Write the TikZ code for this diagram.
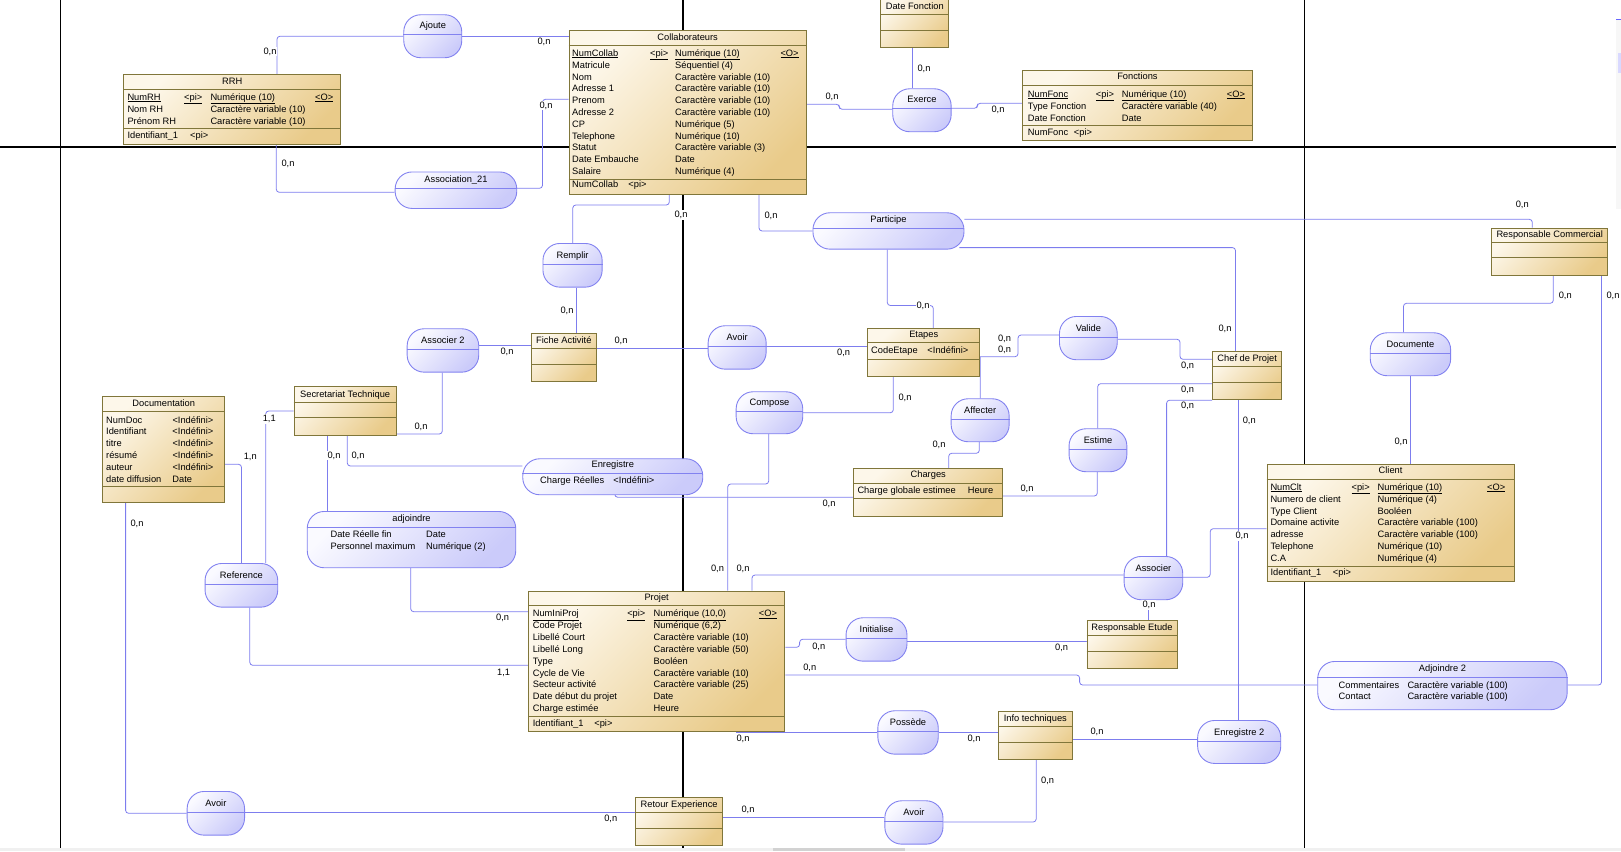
\documentclass[tikz,border=0pt]{standalone}
\usepackage{fontspec}
\setmainfont{Liberation Sans}
\usetikzlibrary{backgrounds}
\definecolor{entLight}{RGB}{253,247,234}
\definecolor{entDark}{RGB}{233,203,138}
\definecolor{entLine}{RGB}{128,118,58}
\definecolor{ascLight}{RGB}{250,250,255}
\definecolor{ascDark}{RGB}{203,203,250}
\definecolor{ascLine}{RGB}{130,130,240}
\definecolor{linkBlue}{RGB}{125,125,238}
\tikzset{
    entity/.style={draw=entLine, line width=0.9pt, rectangle, inner sep=0pt, anchor=north west, top color=entLight, bottom color=entDark, shading angle=45},
    assoc/.style={draw=ascLine, line width=0.9pt, rectangle, rounded corners=17pt, inner sep=0pt, anchor=north west, top color=ascLight, bottom color=ascDark, shading angle=45},
    esep/.style={draw=entLine, line width=0.9pt},
    asep/.style={draw=ascLine, line width=0.9pt},
    link/.style={draw=linkBlue, line width=0.8pt, rounded corners=3pt},
    pageline/.style={draw=black, line width=1.1pt},
    lbl/.style={font=\fontsize{9.3}{11.8}\selectfont, inner sep=0pt, text height=6.8pt, text depth=1.8pt},
    foot/.style={lbl, anchor=west},
    card/.style={lbl, anchor=west, fill=white, inner sep=0.3pt},
    attr/.style={font=\fontsize{9.3}{11.8}\selectfont, inner sep=0pt, anchor=north west}
}
\begin{document}
\begin{tikzpicture}[x=1pt, y=-1pt]
    \useasboundingbox (0,0) rectangle (1621,851);

    % entities
    \node[entity, minimum width=217pt, minimum height=70pt] (rrh) at (123.3,74.3) {};
    \node[entity, minimum width=237pt, minimum height=163.7pt] (collab) at (568.7,30.3) {};
    \node[entity, minimum width=68pt, minimum height=48.1pt] (datefct) at (880.3,-0.8) {};
    \node[entity, minimum width=229.4pt, minimum height=70.3pt] (fonctions) at (1022.3,70) {};
    \node[entity, minimum width=122pt, minimum height=106pt] (doc) at (102.3,396.3) {};
    \node[entity, minimum width=102pt, minimum height=49pt] (secr) at (293.7,386.3) {};
    \node[entity, minimum width=64.7pt, minimum height=47.7pt] (fiche) at (531,333.3) {};
    \node[entity, minimum width=112pt, minimum height=48pt] (etapes) at (867.3,328.3) {};
    \node[entity, minimum width=149pt, minimum height=47.7pt] (charges) at (853.3,468.3) {};
    \node[entity, minimum width=69.3pt, minimum height=48pt] (chef) at (1212.1,351.3) {};
    \node[entity, minimum width=247.2pt, minimum height=117pt] (client) at (1266.5,464) {};
    \node[entity, minimum width=116pt, minimum height=47.6pt] (respcom) at (1491.3,227.7) {};
    \node[entity, minimum width=256.4pt, minimum height=140.6pt] (projet) at (528,590.7) {};
    \node[entity, minimum width=90pt, minimum height=48pt] (respetude) at (1086.5,620.3) {};
    \node[entity, minimum width=73.6pt, minimum height=47.7pt] (infotech) at (998.1,711.3) {};
    \node[entity, minimum width=87.4pt, minimum height=48.3pt] (retour) at (635,797) {};

    % associations
    \node[assoc, minimum width=58pt, minimum height=43pt] (ajoute) at (403.3,14.3) {};
    \node[assoc, minimum width=121.6pt, minimum height=36.5pt] (assoc21) at (394.7,171.5) {};
    \node[assoc, minimum width=58.4pt, minimum height=43pt] (exerce) at (892.3,88.3) {};
    \node[assoc, minimum width=59.2pt, minimum height=43.7pt] (remplir) at (542.5,243) {};
    \node[assoc, minimum width=151pt, minimum height=36.4pt] (participe) at (812.5,212.3) {};
    \node[assoc, minimum width=71.6pt, minimum height=43.4pt] (associer2) at (406.7,328.3) {};
    \node[assoc, minimum width=58pt, minimum height=43.4pt] (avoirM) at (707.7,325.3) {};
    \node[assoc, minimum width=66.6pt, minimum height=42pt] (compose) at (735.7,391.3) {};
    \node[assoc, minimum width=58pt, minimum height=43pt] (affecter) at (950.7,398.3) {};
    \node[assoc, minimum width=180pt, minimum height=36pt] (enregistre) at (522.3,458.3) {};
    \node[assoc, minimum width=57.8pt, minimum height=43.3pt] (valide) at (1059,316) {};
    \node[assoc, minimum width=57.8pt, minimum height=43pt] (estime) at (1068.6,428.3) {};
    \node[assoc, minimum width=80.4pt, minimum height=43pt] (documente) at (1369.8,332.3) {};
    \node[assoc, minimum width=58.6pt, minimum height=43.3pt] (associer) at (1123.7,556) {};
    \node[assoc, minimum width=208.5pt, minimum height=56.3pt] (adjoindre) at (306.8,511) {};
    \node[assoc, minimum width=72.7pt, minimum height=43.7pt] (reference) at (204.6,563) {};
    \node[assoc, minimum width=60.9pt, minimum height=43.4pt] (initialise) at (845.6,617.3) {};
    \node[assoc, minimum width=249.4pt, minimum height=48.3pt] (adjoindre2) at (1317.3,661) {};
    \node[assoc, minimum width=60.4pt, minimum height=43.4pt] (possede) at (877.4,710.3) {};
    \node[assoc, minimum width=83.1pt, minimum height=43pt] (enregistre2) at (1197.2,720) {};
    \node[assoc, minimum width=57.4pt, minimum height=43.7pt] (avoirL) at (186.7,791) {};
    \node[assoc, minimum width=58.1pt, minimum height=43.4pt] (avoirR) at (884.4,800.3) {};

    \begin{scope}[on background layer]
    % page borders of the model
    \draw[pageline] (60.7,0) -- (60.7,848);
    \draw[pageline] (683,0) -- (683,848);
    \draw[pageline] (1304.5,0) -- (1304.5,848);
    \draw[pageline] (0,147) -- (1616,147);
    \fill[gray!12] (0,848) rectangle (1621,851);
    \fill[gray!35] (773,848) rectangle (905,851);
    \fill[gray!6] (1616,19) rectangle (1621,209);
    \fill[blue!15] (1617.5,53) rectangle (1621,73);
    \draw[blue!60] (1616,19) -- (1621,19);

    % connectors
    \draw[link] (rrh.north -| 277,0) |- (ajoute.west);
    \draw[link] (ajoute.east) -- (ajoute.east -| collab.west);
    \draw[link] (rrh.south -| 276.3,0) |- (assoc21.west |- 0,192.3);
    \draw[link] (assoc21.east |- 0,188.3) -| (542.5,99.3) -- (collab.west |- 0,99.3);
    \draw[link] (collab.east |- 0,104.3) -| (839.3,109.3) -- (exerce.west |- 0,109.3);
    \draw[link] (exerce.north -| 912.3,0) -- (datefct.south -| 912.3,0);
    \draw[link] (exerce.east |- 0,108.3) -| (977.3,103.3) -- (fonctions.west |- 0,103.3);
    \draw[link] (collab.south -| 669.3,0) |- (572.8,205) -- (remplir.north -| 572.8,0);
    \draw[link] (remplir.south -| 576.5,0) -- (fiche.north -| 576.5,0);
    \draw[link] (collab.south -| 759,0) |- (participe.west);
    \draw[link] (participe.east |- 0,219.3) -| (respcom.north -| 1532.3,0);
    \draw[link] ([xshift=-5pt,yshift=2pt]participe.south east) -| (chef.north -| 1235.5,0);
    \draw[link] (participe.south -| 887.3,0) |- (933.3,305.5) -- (etapes.north -| 933.3,0);
    \draw[link] (associer2.east |- 0,345) -- (fiche.west |- 0,345);
    \draw[link] (associer2.south -| 442.3,0) |- (secr.east |- 0,434);
    \draw[link] (fiche.east |- 0,348.3) -- (avoirM.west |- 0,348.3);
    \draw[link] (avoirM.east |- 0,346) -- (etapes.west |- 0,346);
    \draw[link] (etapes.east |- 0,356.7) -| (1018,335) -- (valide.west |- 0,335);
    \draw[link] (etapes.east |- 0,357) -- (affecter.north -| 980.3,0);
    \draw[link] (affecter.south -| 979.3,0) |- (948.7,453.3) -- (charges.north -| 948.7,0);
    \draw[link] (etapes.south -| 893.3,0) |- (compose.east);
    \draw[link] (compose.south -| 768.7,0) |- (727.7,484) -- (projet.north -| 727.7,0);
    \draw[link] (projet.north -| 752,0) |- (associer.west |- 0,575);
    \draw[link] (associer.north -| 1166.6,0) |- (chef.south west);
    \draw[link] (estime.north -| 1097.7,0) |- (chef.west |- 0,383.7);
    \draw[link] (valide.east |- 0,339.3) -| (1180,359.3) -- (chef.west |- 0,359.3);
    \draw[link] (estime.south -| 1097.3,0) |- (charges.east |- 0,496);
    \draw[link] (secr.south -| 347.3,0) |- (enregistre.west |- 0,466);
    \draw[link] (secr.south -| 327.7,0) -- (adjoindre.north -| 327.7,0);
    \draw[link] (enregistre.south -| 614.8,0) |- (charges.west |- 0,497.3);
    \draw[link] (adjoindre.south -| 410.7,0) |- (projet.west |- 0,611.7);
    \draw[link] (reference.south -| 249.8,0) |- (projet.west |- 0,665.3);
    \draw[link] (doc.east |- 0,464.3) -| (reference.north -| 241.5,0);
    \draw[link] (secr.west |- 0,411) -| (reference.north -| 265.7,0);
    \draw[link] (doc.south -| 125.6,0) |- (avoirL.west);
    \draw[link] (avoirL.east |- 0,812) -- (retour.west |- 0,812);
    \draw[link] (retour.east |- 0,817.3) -- (avoirR.west |- 0,817.3);
    \draw[link] (avoirR.east |- 0,822) -| (infotech.south -| 1036.2,0);
    \draw[link] (projet.south -| 736,0) -- (possede.west |- projet.south);
    \draw[link] (possede.east |- 0,732) -- (infotech.west |- 0,732);
    \draw[link] (infotech.east |- 0,739.3) -- (enregistre2.west |- 0,739.3);
    \draw[link] (enregistre2.north -| 1238.4,0) -- (chef.south -| 1238.4,0);
    \draw[link] (projet.east |- 0,647.3) -| (799.6,639.3) -- (initialise.west |- 0,639.3);
    \draw[link] (initialise.east |- 0,641.3) -- (respetude.west |- 0,641.3);
    \draw[link] (respetude.north -| 1148.4,0) -- (associer.south -| 1148.4,0);
    \draw[link] (projet.east |- 0,675) -| (1079.6,685) -- (adjoindre2.west |- 0,685);
    \draw[link] (adjoindre2.east |- 0,685) -| (respcom.south -| 1601.5,0);
    \draw[link] (associer.east |- 0,577.3) -| (1210.2,528.7) -- (client.west |- 0,528.7);
    \draw[link] (documente.south -| 1410,0) -- (client.north -| 1410,0);
    \draw[link] (documente.north -| 1403.5,0) |- (1553.3,303.3) -- (respcom.south -| 1553.3,0);
    \end{scope}

    % compartments and titles
    \foreach \n/\a/\b/\t in {rrh/89.3/128/RRH, collab/45.3/179.3/Collaborateurs,
        datefct/14.3/30.3/Date Fonction, fonctions/85/125.3/Fonctions,
        doc/411.7/486.7/Documentation, secr/402.3/417.7/Secretariat Technique,
        fiche/348.3/364.3/Fiche Activité, etapes/342.7/359.3/Etapes,
        charges/483/498.3/Charges, chef/366.7/382.3/Chef de Projet,
        client/479/566.3/Client, respcom/242.3/257.3/Responsable Commercial,
        projet/605.7/716/Projet, respetude/635.3/651.3/Responsable Etude,
        infotech/726.3/742.3/Info techniques, retour/812.3/828.3/Retour Experience}{
        \draw[esep] (\n.west |- 0,\a) -- (\n.east |- 0,\a);
        \draw[esep] (\n.west |- 0,\b) -- (\n.east |- 0,\b);
        \node[lbl] (\n-t) at (\n.center |- 0,\a-7.6) {\t};
    }
    \foreach \n/\s/\t in {ajoute/34.7/Ajoute, assoc21/188.3/Association\_21,
        exerce/108.3/Exerce, remplir/264.3/Remplir, participe/228.7/Participe,
        associer2/349.3/Associer 2, avoirM/346/Avoir, compose/411.3/Compose,
        affecter/419.3/Affecter, enregistre/473.3/Enregistre, valide/337.3/Valide,
        estime/449.3/Estime, documente/353/Documente, associer/577/Associer,
        adjoindre/527.7/adjoindre, reference/584.3/Reference,
        initialise/638.3/Initialise, adjoindre2/677.3/Adjoindre 2,
        possede/731/Possède, enregistre2/741.3/Enregistre 2,
        avoirL/812/Avoir, avoirR/821/Avoir}{
        \draw[asep] (\n.west |- 0,\s) -- (\n.east |- 0,\s);
        \node[lbl] (\n-t) at (\n.center |- 0,\s-8.3) {\t};
    }

    % attributes
    \node[attr] (rrh-a) at (127.3,91.7) {\begin{tabular}{@{}p{56.7pt}@{}p{26.3pt}@{}p{104.7pt}@{}l@{}}
        \underline{NumRH} & \underline{<pi>} & \underline{Numérique (10)} & \underline{<O>}\\
        Nom RH & & Caractère variable (10)\\
        Prénom RH & & Caractère variable (10)
    \end{tabular}};
    \node[foot] (rrh-f) at (127.3,136) {\makebox[62.7pt][l]{Identifiant\_1}<pi>};

    \node[attr] (collab-a) at (572,47.7) {\begin{tabular}{@{}p{78pt}@{}p{25pt}@{}p{105.3pt}@{}l@{}}
        \underline{NumCollab} & \underline{<pi>} & \underline{Numérique (10)} & \underline{<O>}\\
        Matricule & & Séquentiel (4)\\
        Nom & & Caractère variable (10)\\
        Adresse 1 & & Caractère variable (10)\\
        Prenom & & Caractère variable (10)\\
        Adresse 2 & & Caractère variable (10)\\
        CP & & Numérique (5)\\
        Telephone & & Numérique (10)\\
        Statut & & Caractère variable (3)\\
        Date Embauche & & Date\\
        Salaire & & Numérique (4)
    \end{tabular}};
    \node[foot] (collab-f) at (572,185.3) {\makebox[56.3pt][l]{NumCollab}<pi>};

    \node[attr] (fonctions-a) at (1027.7,88.7) {\begin{tabular}{@{}p{68pt}@{}p{26pt}@{}p{105pt}@{}l@{}}
        \underline{NumFonc} & \underline{<pi>} & \underline{Numérique (10)} & \underline{<O>}\\
        Type Fonction & & Caractère variable (40)\\
        Date Fonction & & Date
    \end{tabular}};
    \node[foot] (fonctions-f) at (1027.7,132.7) {\makebox[46pt][l]{NumFonc}<pi>};

    \node[attr] (doc-a) at (106,414.7) {\begin{tabular}{@{}p{66.3pt}@{}l@{}}
        NumDoc & <Indéfini>\\
        Identifiant & <Indéfini>\\
        titre & <Indéfini>\\
        résumé & <Indéfini>\\
        auteur & <Indéfini>\\
        date diffusion & Date
    \end{tabular}};

    \node[foot] (etapes-a) at (871,350.7) {\makebox[56.3pt][l]{CodeEtape}<Indéfini>};
    \node[foot] (charges-a) at (857.3,490.7) {\makebox[110.4pt][l]{Charge globale estimee}Heure};

    \node[attr] (client-a) at (1270.3,481.7) {\begin{tabular}{@{}p{81.1pt}@{}p{26pt}@{}p{109.5pt}@{}l@{}}
        \underline{NumClt} & \underline{<pi>} & \underline{Numérique (10)} & \underline{<O>}\\
        Numero de client & & Numérique (4)\\
        Type Client & & Booléen\\
        Domaine activite & & Caractère variable (100)\\
        adresse & & Caractère variable (100)\\
        Telephone & & Numérique (10)\\
        C.A & & Numérique (4)
    \end{tabular}};
    \node[foot] (client-f) at (1270.3,572.7) {\makebox[62.4pt][l]{Identifiant\_1}<pi>};

    \node[attr] (projet-a) at (532.6,608.3) {\begin{tabular}{@{}p{94.5pt}@{}p{26.4pt}@{}p{105.2pt}@{}l@{}}
        \underline{NumIniProj} & \underline{<pi>} & \underline{Numérique (10,0)} & \underline{<O>}\\
        Code Projet & & Numérique (6,2)\\
        Libellé Court & & Caractère variable (10)\\
        Libellé Long & & Caractère variable (50)\\
        Type & & Booléen\\
        Cycle de Vie & & Caractère variable (10)\\
        Secteur activité & & Caractère variable (25)\\
        Date début du projet & & Date\\
        Charge estimée & & Heure
    \end{tabular}};
    \node[foot] (projet-f) at (532.6,723.7) {\makebox[61.6pt][l]{Identifiant\_1}<pi>};

    \node[foot] (enregistre-a) at (540,480.7) {\makebox[73.3pt][l]{Charge Réelles}<Indéfini>};
    \node[attr] (adjoindre-a) at (330.4,529) {\begin{tabular}{@{}p{95.6pt}@{}l@{}}
        Date Réelle fin & Date\\
        Personnel maximum & Numérique (2)
    \end{tabular}};
    \node[attr] (adjoindre2-a) at (1338.5,680) {\begin{tabular}{@{}p{68.8pt}@{}l@{}}
        Commentaires & Caractère variable (100)\\[-0.8pt]
        Contact & Caractère variable (100)
    \end{tabular}};

    % cardinalities
    \foreach \x/\y [count=\i] in {263/51.7, 537/41.7, 281/164.3, 539/105.7, 825/97,
        917/69, 991/109.7, 674/215, 764/215.7, 560/310.7, 1515.3/204.7, 1218/328.7,
        916/305.7, 500/352.3, 414/427, 614/340.7, 836.7/352.7, 997.5/338.7, 997.5/350,
        932/445.3, 898/397.7, 710.5/568.7, 736/568.7, 1180.7/405.7, 1180.7/389.7,
        1180.7/366, 1020/489, 351/455.7, 327/455.7, 822/503.7, 495.6/617.7, 130/523.7,
        603.8/819, 741/810, 1040.7/781, 736/739, 967/738.7, 1090/732.3, 1242.3/420.7,
        811.8/647, 1054.7/648, 1142/605, 802.8/667.7, 1606/296.3, 1235/536, 1394/442,
        1558.3/296.3}
        \node[card] (card\i) at (\x,\y) {0,n};
    \node[card] (card-rp) at (496.6,673) {1,1};
    \node[card] (card-sr) at (262.3,419) {1,1};
    \node[card] (card-dr) at (243.3,456.7) {1,n};
\end{tikzpicture}
\end{document}
